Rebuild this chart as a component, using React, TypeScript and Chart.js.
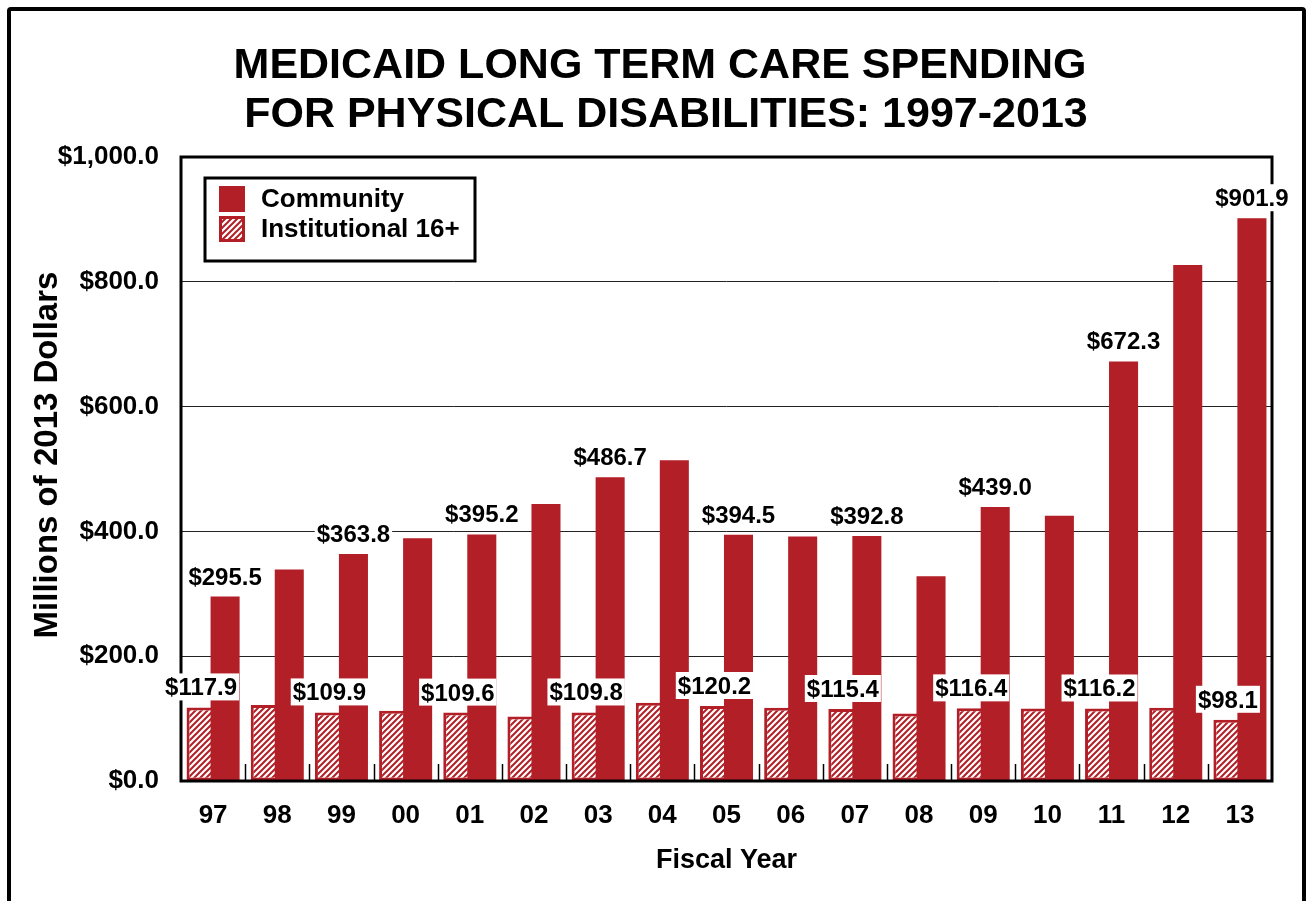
import { useEffect, useRef } from 'react';
import { Chart, registerables } from 'chart.js';

Chart.register(...registerables);

const FONT = '"Liberation Sans", Arial, Helvetica, sans-serif';
const RED = '#B21F26';

const years = ['97', '98', '99', '00', '01', '02', '03', '04', '05', '06', '07', '08', '09', '10', '11', '12', '13'];
const community = [295.5, 339, 363.8, 389, 395.2, 444, 486.7, 514, 394.5, 392, 392.8, 328, 439.0, 425, 672.3, 827, 901.9];
const institutional = [117.9, 121.8, 109.9, 112.6, 109.6, 103.4, 109.8, 125.5, 120.2, 117.4, 115.4, 108.2, 116.4, 116.0, 116.2, 117.4, 98.1];
const labeledIndices = [0, 2, 4, 6, 8, 10, 12, 14, 16];
const titleLines = ['MEDICAID LONG TERM CARE SPENDING', ' FOR PHYSICAL DISABILITIES: 1997-2013'];
const yAxisTitle = 'Millions of 2013 Dollars';
const xAxisTitle = 'Fiscal Year';

const money = (v: number) =>
  '$' + v.toLocaleString('en-US', { minimumFractionDigits: 1, maximumFractionDigits: 1 });

function makePattern(): CanvasPattern | string {
  const c = document.createElement('canvas');
  c.width = 6;
  c.height = 6;
  const p = c.getContext('2d');
  if (!p) return RED;
  p.fillStyle = '#ffffff';
  p.fillRect(0, 0, 6, 6);
  p.strokeStyle = RED;
  p.lineWidth = 2;
  p.beginPath();
  p.moveTo(-1, 7);
  p.lineTo(7, -1);
  p.moveTo(-1, 1);
  p.lineTo(1, -1);
  p.moveTo(5, 7);
  p.lineTo(7, 5);
  p.stroke();
  return p.createPattern(c, 'repeat') || RED;
}

const customPlugin = {
  id: 'customDecor',
  beforeDatasetDraw(chart: any, args: any) {
    // community drawn later so it sits in front of the hatched bars
    if (args.index === 1) return false;
    return true;
  },
  afterDatasetsDraw(chart: any) {
    const ctx: CanvasRenderingContext2D = chart.ctx;
    const area = chart.chartArea;
    chart.getDatasetMeta(1).controller.draw();

    const xs = chart.scales.x;
    // inward x ticks between categories
    ctx.save();
    ctx.strokeStyle = '#000';
    ctx.lineWidth = 1.5;
    for (let i = 1; i < years.length; i++) {
      const x = Math.round((xs.getPixelForValue(i - 1) + xs.getPixelForValue(i)) / 2) + 0.5;
      ctx.beginPath();
      ctx.moveTo(x, area.bottom);
      ctx.lineTo(x, area.bottom - 17);
      ctx.stroke();
    }
    // frame
    ctx.lineWidth = 3;
    ctx.strokeRect(area.left, area.top, area.right - area.left, area.bottom - area.top);
    ctx.restore();

    // data labels
    ctx.save();
    ctx.font = `bold 24px ${FONT}`;
    ctx.textAlign = 'center';
    ctx.textBaseline = 'alphabetic';
    [0, 1].forEach((di) => {
      const meta = chart.getDatasetMeta(di);
      const data = chart.data.datasets[di].data as number[];
      labeledIndices.forEach((idx) => {
        const el = meta.data[idx];
        const txt = money(data[idx]);
        const w = ctx.measureText(txt).width;
        const base = el.y - 12;
        ctx.fillStyle = '#fff';
        ctx.fillRect(el.x - w / 2 - 2, base - 22, w + 4, 27);
        ctx.fillStyle = '#000';
        ctx.fillText(txt, el.x, base);
      });
    });
    ctx.restore();

    // legend
    ctx.save();
    ctx.fillStyle = '#fff';
    ctx.fillRect(205, 178, 270, 83);
    ctx.strokeStyle = '#000';
    ctx.lineWidth = 3;
    ctx.strokeRect(205, 178, 270, 83);
    const entries = [1, 0];
    entries.forEach((di, row) => {
      const ds = chart.data.datasets[di];
      const cy = 199 + row * 30;
      ctx.fillStyle = ds.backgroundColor;
      ctx.fillRect(219, cy - 13, 26, 26);
      if (di === 0) {
        ctx.strokeStyle = RED;
        ctx.lineWidth = 3;
        ctx.strokeRect(220.5, cy - 11.5, 23, 23);
      }
      ctx.fillStyle = '#000';
      ctx.font = `bold 26px ${FONT}`;
      ctx.textAlign = 'left';
      ctx.textBaseline = 'middle';
      ctx.fillText(ds.label, 261, cy + 1);
    });
    ctx.restore();
  },
  afterDraw(chart: any) {
    const ctx: CanvasRenderingContext2D = chart.ctx;
    ctx.save();
    ctx.fillStyle = '#000';
    ctx.font = `bold 43px ${FONT}`;
    ctx.textAlign = 'center';
    ctx.textBaseline = 'alphabetic';
    ctx.fillText(titleLines[0], 660, 78);
    ctx.fillText(titleLines[1], 660, 127);
    // y-axis title
    ctx.translate(48, 455);
    ctx.rotate(-Math.PI / 2);
    ctx.font = `bold 33px ${FONT}`;
    ctx.textBaseline = 'middle';
    ctx.fillText(yAxisTitle, 0, 0);
    ctx.restore();
  },
};

export default function App() {
  const ref = useRef<HTMLCanvasElement>(null);

  useEffect(() => {
    const canvas = ref.current;
    if (!canvas) return;
    const pattern = makePattern();
    const chart = new Chart(canvas, {
      type: 'bar',
      data: {
        labels: years,
        datasets: [
          {
            label: 'Institutional 16+',
            data: institutional,
            backgroundColor: pattern as any,
            borderColor: RED,
            borderWidth: 3,
            borderSkipped: false,
            categoryPercentage: 0.748,
            barPercentage: 1.21,
          },
          {
            label: 'Community',
            data: community,
            backgroundColor: RED,
            borderWidth: 0,
            categoryPercentage: 0.748,
            barPercentage: 1.21,
          },
        ],
      },
      options: {
        responsive: false,
        devicePixelRatio: 1,
        animation: false,
        layout: { padding: { top: 157, right: 34, bottom: 0, left: 0 } },
        plugins: {
          legend: { display: false },
          tooltip: { enabled: false },
          title: { display: false },
        },
        scales: {
          x: {
            grid: { display: false, drawTicks: false },
            border: { display: false },
            ticks: {
              color: '#000',
              padding: 19,
              font: { family: FONT, size: 26, weight: 'bold' },
              maxRotation: 0,
            },
            title: {
              display: true,
              text: xAxisTitle,
              color: '#000',
              font: { family: FONT, size: 27, weight: 'bold' },
              padding: { top: 0, bottom: 24 },
            },
            afterFit: (s: any) => {
              s.height = 120;
            },
          },
          y: {
            min: 0,
            max: 1000,
            grid: { color: '#222', lineWidth: 1, drawTicks: false },
            border: { display: false },
            ticks: {
              stepSize: 200,
              color: '#000',
              padding: 22,
              font: { family: FONT, size: 26, weight: 'bold' },
              callback: (v: any) => money(Number(v)),
            },
            title: { display: false },
            afterFit: (s: any) => {
              s.width = 181;
            },
          },
        },
      },
      plugins: [customPlugin as any],
    });
    return () => chart.destroy();
  }, []);

  return (
    <div
      style={{
        position: 'fixed',
        left: 0,
        top: 0,
        width: 1306,
        height: 901,
        overflow: 'hidden',
        background: '#fff',
      }}
    >
      <div
        style={{
          position: 'absolute',
          left: 7,
          top: 7,
          width: 1299,
          height: 1000,
          border: '4px solid #000',
          borderRadius: 4,
          boxSizing: 'border-box',
        }}
      />
      <canvas
        ref={ref}
        width={1306}
        height={901}
        style={{ position: 'absolute', left: 0, top: 0, width: 1306, height: 901 }}
      />
    </div>
  );
}
